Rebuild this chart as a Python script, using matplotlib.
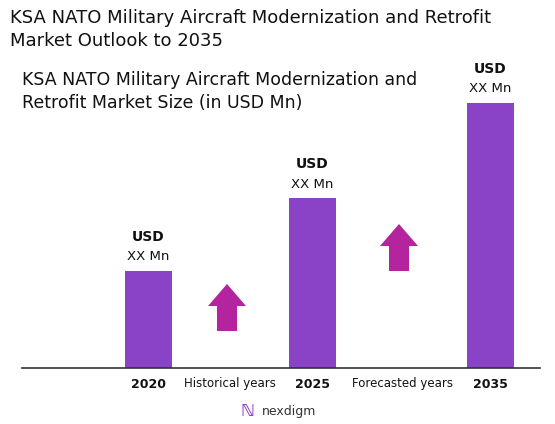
import matplotlib
matplotlib.use("Agg")
import matplotlib.pyplot as plt
from matplotlib.patches import FancyArrow

years = ["2020", "2025", "2035"]
values = [97, 170, 265]
bar_labels = ["XX Mn", "XX Mn", "XX Mn"]
between = ["Historical years", "Forecasted years"]

W, H = 555, 424
fig = plt.figure(figsize=(W/100, H/100), dpi=100)
ax = fig.add_axes([0, 0, 1, 1])
ax.set_xlim(0, W); ax.set_ylim(H, 0); ax.axis("off")

base = 368
xs = [148, 312, 490]
ax.bar(xs, [-v for v in values], bottom=base, width=47, color="#8A43C6")
ax.plot([22, 540], [base, base], color="#333333", lw=1.2)
for x, v, y, l in zip(xs, values, years, bar_labels):
    top = base - v
    ax.text(x, top - 34, "USD", ha="center", va="center", fontsize=10, fontweight="bold", color="#111")
    ax.text(x, top - 14, l, ha="center", va="center", fontsize=9.5, color="#111")
    ax.text(x, 384, y, ha="center", va="center", fontsize=9, fontweight="bold", color="#111")
ax.text(230, 384, between[0], ha="center", va="center", fontsize=8.5, color="#111")
ax.text(402, 384, between[1], ha="center", va="center", fontsize=8.5, color="#111")

for cx, yb, yt in [(227, 331, 284), (399, 271, 224)]:
    ax.add_patch(FancyArrow(cx, yb, 0, yt - yb, width=20, head_width=38, head_length=22,
                            length_includes_head=True, color="#B4249F", lw=0))

ax.text(10, 18, "KSA NATO Military Aircraft Modernization and Retrofit", fontsize=13, va="center", color="#111")
ax.text(10, 41, "Market Outlook to 2035", fontsize=13, va="center", color="#111")
ax.text(22, 80, "KSA NATO Military Aircraft Modernization and", fontsize=12.5, va="center", color="#111")
ax.text(22, 103, "Retrofit Market Size (in USD Mn)", fontsize=12.5, va="center", color="#111")
ax.text(247, 411, "\u2115", fontsize=12, ha="center", va="center", color="#8A43C6", fontweight="bold")
ax.text(262, 411, "nexdigm", fontsize=9, va="center", color="#333")

fig.savefig("out.png", dpi=100)
